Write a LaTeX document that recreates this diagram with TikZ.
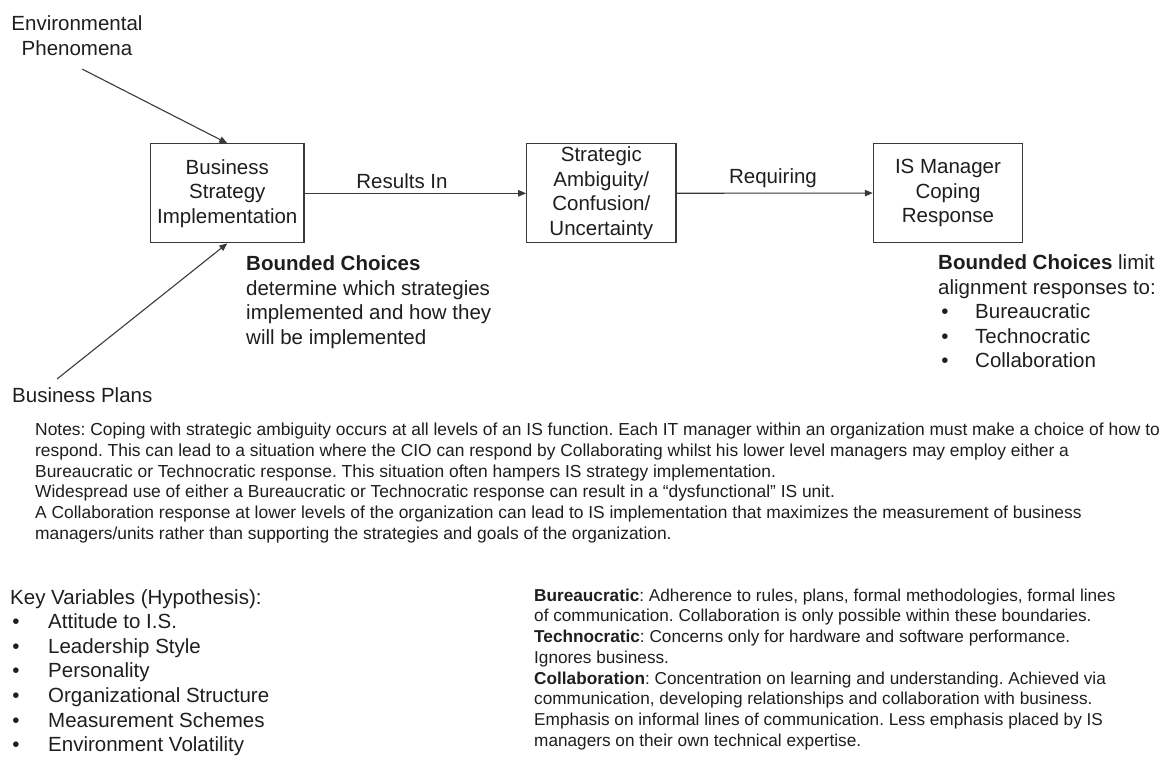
\documentclass[tikz,border=0pt]{standalone}
\usepackage{fontspec}
\setmainfont{Liberation Sans}
\usetikzlibrary{arrows.meta}
\definecolor{ink}{HTML}{1E1E1E}
\definecolor{edge}{HTML}{3A3A3A}
\frenchspacing

\begin{document}
\begin{tikzpicture}[x=1pt,y=-1pt,
  big/.style={font=\fontsize{20.5}{24.5}\selectfont, text=ink, inner sep=0pt},
  small/.style={font=\fontsize{17.2}{20.8}\selectfont, text=ink, inner sep=0pt},
  note/.style={font=\fontsize{17.4}{21}\selectfont, text=ink, inner sep=0pt},
  line/.style={anchor=base west},
  mid/.style={anchor=base},
  box/.style={draw=edge, line width=1.1pt, fill=white, big, align=center,
    minimum height=99pt},
  link/.style={draw=edge, line width=1.1pt, -{Triangle[length=8pt,width=6.5pt]}}]
\useasboundingbox (0,0) rectangle (1170,756);

% process boxes
\node[box, minimum width=153.3pt] (bsi) at (227.3,193.3) {Business\\Strategy\\Implementation};
\node[box, minimum width=149.3pt] (amb) at (601.3,193.3) {Strategic\\Ambiguity/\\Confusion/\\Uncertainty};
\node[box, minimum width=149.3pt] (cope) at (948,193) {IS Manager\\Coping\\Response};

% inputs
\node[big, mid] (env1) at (77,30.5) {Environmental};
\node[big, mid] (env2) at (77,55) {Phenomena};
\coordinate (envtail) at (82,69);
\node[big, line] (plans) at (12,402) {Business Plans};
\coordinate (planstail) at (57,379);

\draw[link] (envtail) -- (bsi.north);
\draw[link] (planstail) -- (bsi.south);
\draw[link] (bsi) -- (amb);
\draw[link] (amb) -- (cope);

\node[big, mid] (lres) at (402,188.5) {Results In};
\node[big, mid] (lreq) at (773,183) {Requiring};

% bounded choices under the first box
\node[big, line] (bc1) at (246,270.5) {\textbf{Bounded Choices}};
\node[big, line] (bc2) at (246,295) {determine which strategies};
\node[big, line] (bc3) at (246,319.5) {implemented and how they};
\node[big, line] (bc4) at (246,344) {will be implemented};

% bounded choices under the last box
\node[big, line] (rc1) at (938,269.5) {\textbf{Bounded Choices} limit};
\node[big, line] (rc2) at (938,294) {alignment responses to:};
\node[big, mid] (rb1) at (945,318.5) {•};
\node[big, line] (ri1) at (975,318.5) {Bureaucratic};
\node[big, mid] (rb2) at (945,343) {•};
\node[big, line] (ri2) at (975,343) {Technocratic};
\node[big, mid] (rb3) at (945,367.5) {•};
\node[big, line] (ri3) at (975,367.5) {Collaboration};

% notes
\node[note, line] (n1) at (35,435.2) {Notes: Coping with strategic ambiguity occurs at all levels of an IS function. Each IT manager within an organization must make a choice of how to};
\node[note, line] (n2) at (35,456.1) {respond. This can lead to a situation where the CIO can respond by Collaborating whilst his lower level managers may employ either a};
\node[note, line] (n3) at (35,477.0) {Bureaucratic or Technocratic response. This situation often hampers IS strategy implementation.};
\node[note, line] (n4) at (35,497.9) {Widespread use of either a Bureaucratic or Technocratic response can result in a “dysfunctional” IS unit.};
\node[note, line] (n5) at (35,518.8) {A Collaboration response at lower levels of the organization can lead to IS implementation that maximizes the measurement of business};
\node[note, line] (n6) at (35,539.7) {managers/units rather than supporting the strategies and goals of the organization.};

% key variables
\node[big, line] (kv) at (10,604) {Key Variables (Hypothesis):};
\node[big, mid] (kb1) at (16,628.6) {•};
\node[big, line] (k1) at (48,628.6) {Attitude to I.S.};
\node[big, mid] (kb2) at (16,653.2) {•};
\node[big, line] (k2) at (48,653.2) {Leadership Style};
\node[big, mid] (kb3) at (16,677.8) {•};
\node[big, line] (k3) at (48,677.8) {Personality};
\node[big, mid] (kb4) at (16,702.4) {•};
\node[big, line] (k4) at (48,702.4) {Organizational Structure};
\node[big, mid] (kb5) at (16,727) {•};
\node[big, line] (k5) at (48,727) {Measurement Schemes};
\node[big, mid] (kb6) at (16,751.3) {•};
\node[big, line] (k6) at (48,751.3) {Environment Volatility};

% response definitions
\node[small, line] (d1) at (534,601.2) {\textbf{Bureaucratic}: Adherence to rules, plans, formal methodologies, formal lines};
\node[small, line] (d2) at (534,621.9) {of communication. Collaboration is only possible within these boundaries.};
\node[small, line] (d3) at (534,642.6) {\textbf{Technocratic}: Concerns only for hardware and software performance.};
\node[small, line] (d4) at (534,663.3) {Ignores business.};
\node[small, line] (d5) at (534,684.0) {\textbf{Collaboration}: Concentration on learning and understanding. Achieved via};
\node[small, line] (d6) at (534,704.7) {communication, developing relationships and collaboration with business.};
\node[small, line] (d7) at (534,725.4) {Emphasis on informal lines of communication. Less emphasis placed by IS};
\node[small, line] (d8) at (534,746.1) {managers on their own technical expertise.};
\end{tikzpicture}
\end{document}
